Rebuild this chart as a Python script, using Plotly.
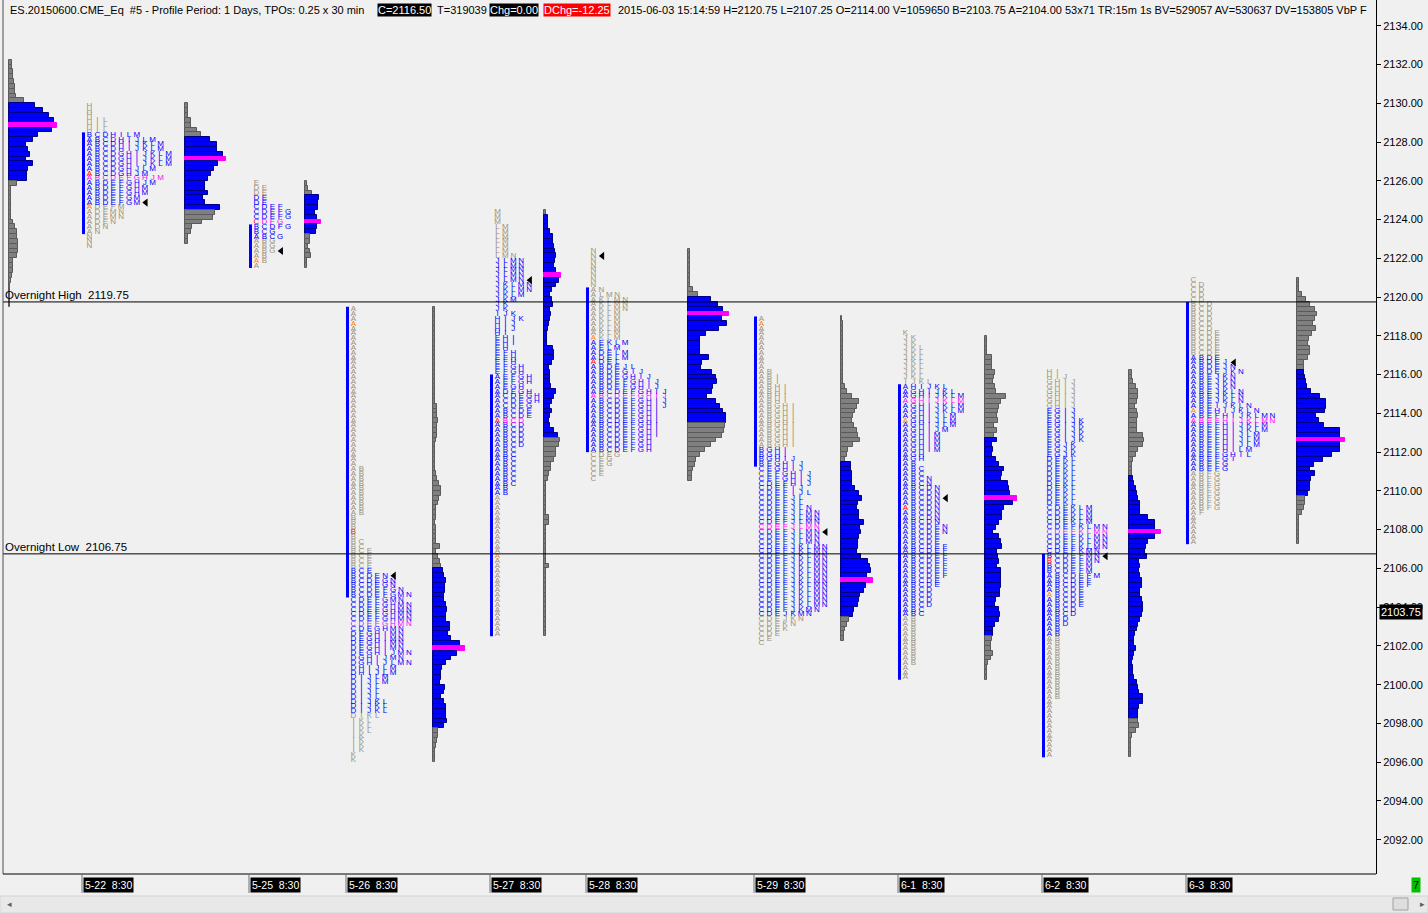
import plotly.graph_objects as go

LETTERS = "ABCDEFGHIJKLMN"
TICK = 0.25

# ---------------- volume-at-price profiles: top price level, volumes listed downward, value area
vp_0521_top = 2132.0
vp_0521_vol = [3, 3, 4, 4, 5, 6, 6, 7, 15, 26, 34, 40, 45, 48, 43, 29, 24, 17, 19, 21, 17, 24, 19, 18, 18,
               8, 2, 2, 2, 2, 2, 2, 2, 4, 6, 8, 8, 9, 9, 9, 8, 4, 4, 4, 3, 2, 1, 1, 1, 1, 1]
vp_0521_va = (2126.0, 2129.75)

vp_0522_top = 2129.75
vp_0522_vol = [3, 3, 3, 6, 6, 12, 16, 25, 32, 32, 38, 41, 33, 29, 26, 23, 20, 20, 23, 18, 20, 35,
               30, 28, 17, 7, 6, 3, 3]
vp_0522_va = (2124.5, 2128.0)

vp_0525_top = 2125.75
vp_0525_vol = [2, 3, 7, 14, 13, 13, 10, 12, 16, 12, 11, 5, 5, 3, 5, 6, 2, 2]
vp_0525_va = (2123.25, 2125.0)

vp_0526_top = 2119.25
vp_0526_vol = [2, 2, 2, 2, 2, 2, 2, 2, 2, 2, 2, 2, 2, 2, 2, 2, 2, 2, 2, 2,
               4, 4, 4, 5, 4, 4, 4, 3, 2, 2, 2, 2, 2, 2, 3, 4, 6, 8, 8, 6, 5,
               3, 3, 3, 2, 3, 3, 3, 3, 7, 3, 5, 7, 8,
               10, 11, 13, 12, 12, 11, 11, 13, 14, 13, 13, 17, 17, 15, 18, 27, 32,
               24, 18, 13, 9, 8, 8, 7, 12, 11, 8, 11, 13, 13, 13, 14, 11,
               5, 5, 4, 3, 2, 2, 2]
vp_0526_va = (2097.75, 2105.75)

vp_0527_top = 2124.25
vp_0527_vol = [2, 4, 4, 4, 6, 9, 9, 10, 11, 12, 11, 10, 12, 17,
               15, 12, 8, 6, 8, 9, 6, 7, 6, 5, 4, 3, 3, 3, 9, 10, 10, 8, 5, 6, 6, 6, 7, 12, 10, 8, 6, 8, 6, 5, 6, 10, 14,
               16, 15, 12, 12, 10, 7, 7, 5, 4, 2, 2, 2, 2, 2, 2, 2, 5, 5, 2, 2, 2, 2, 2, 2, 2, 2, 5,
               2, 2, 2, 2, 2, 2, 2, 2, 2, 2, 2, 2, 2, 2]
vp_0527_va = (2112.75, 2124.0)

vp_0528_top = 2122.25
vp_0528_vol = [2, 2, 2, 2, 2, 2, 2, 2, 5, 10,
               23, 30, 35, 41, 34, 39, 31, 18, 12, 12, 12, 12, 21, 14, 13, 24, 28, 29, 25, 24, 19, 28, 32, 35, 38, 38,
               37, 36, 34, 28, 23, 17, 12, 8, 7, 5, 4, 4]
vp_0528_va = (2113.5, 2119.75)

vp_0529_top = 2118.75
vp_0529_vol = [1, 2, 2, 2, 2, 2, 2, 2, 2, 2, 2, 2, 2, 2, 4, 6, 11, 18, 16, 14, 12, 11, 13, 16, 17, 19, 12, 7, 6, 4,
               10, 10, 11, 11, 11, 14, 18, 21, 17, 16, 18, 18, 23, 19, 20, 18, 17, 17, 16, 20, 27, 29, 30, 26, 32,
               25, 23, 19, 18, 17, 13, 12, 8, 6, 4, 3, 3]
vp_0529_va = (2103.5, 2111.25)

vp_0601_top = 2117.75
vp_0601_vol = [2, 2, 2, 2, 7, 7, 7, 10, 9, 8, 10, 11, 21, 16, 14, 13, 12, 13, 9, 12, 9,
               12, 7, 8, 7, 11, 14, 19, 17, 16, 23, 24, 25, 32,
               28, 19, 17, 17, 14, 11, 8, 14, 16, 17, 12, 13, 14, 12, 16, 16, 16, 16, 15, 15, 11, 10, 14, 15, 14, 10, 8, 8,
               7, 6, 6, 8, 6, 3, 2, 2, 2]
vp_0601_va = (2102.5, 2112.5)

vp_0602_top = 2116.0
vp_0602_vol = [3, 3, 4, 7, 9, 9, 8, 6, 8, 9, 8, 8, 8, 14, 15, 14, 9, 7, 4, 3, 3, 3,
               4, 5, 7, 8, 9, 11, 11, 11, 19, 26, 26, 32,
               26, 19, 17, 16, 18, 10, 11, 10, 11, 13, 13, 11, 11, 13, 14, 14, 13, 11, 9, 8, 6, 5, 5, 7, 5, 4, 3, 4, 4,
               5, 8, 9, 10, 14, 14, 10, 9, 9,
               9, 10, 7, 3, 2, 2, 2, 2]
vp_0602_va = (2098.25, 2110.5)

vp_0603_top = 2120.75
vp_0603_vol = [2, 2, 2, 5, 9, 13, 18, 20, 18, 16, 19, 15, 12, 11, 13, 13, 11, 7, 7,
               7, 8, 9, 10, 14, 23, 29, 29, 28, 19, 22, 27, 43, 43, 48,
               43, 43, 35, 26, 17, 13, 18, 14, 13, 13, 11,
               8, 8, 7, 5, 2, 2, 2, 2, 2, 2]
vp_0603_va = (2109.75, 2116.0)

# ---------------- TPO letter ranges (low, high) for periods A..N of each day session
tpo_0522 = [(2123.25, 2128.0), (2124.75, 2128.25), (2126.0, 2128.25), (2123.5, 2128.25), (2123.75, 2126.0),
            (2124.5, 2126.0), (2124.75, 2127.25), (2125.25, 2129.75), (2126.75, 2129.0), (2125.75, 2128.0),
            (2126.75, 2127.75), (2126.5, 2129.0), (2124.0, 2128.25), (2122.5, 2124.25)]
tpo_0525 = [(2121.5, 2123.0), (2121.75, 2123.5), (2123.0, 2124.5), (2123.5, 2125.5), (2124.0, 2125.75),
            (2123.5, 2124.5), (2122.25, 2124.25)]
tpo_0526 = [(2108.75, 2119.25), (2104.5, 2111.0), (2102.75, 2107.25), (2098.25, 2105.5), (2101.5, 2106.75),
            (2103.0, 2104.75), (2101.0, 2105.25), (2100.5, 2104.0), (2096.5, 2102.5), (2098.5, 2101.5),
            (2096.0, 2099.0), (2097.5, 2101.0), (2100.0, 2104.5), (2101.0, 2105.5)]
tpo_0527 = [(2102.5, 2115.75), (2109.75, 2114.0), (2110.25, 2114.75), (2112.25, 2115.0), (2113.75, 2117.75),
            (2115.5, 2117.0), (2114.25, 2116.25), (2114.5, 2118.75), (2117.5, 2119.0), (2118.25, 2121.75),
            (2118.75, 2120.5), (2120.0, 2123.5), (2119.75, 2124.25), (2120.25, 2122.0)]
tpo_0528 = [(2112.0, 2120.25), (2112.0, 2116.25), (2110.5, 2115.0), (2111.75, 2117.0), (2110.75, 2117.5),
            (2112.0, 2115.5), (2111.25, 2116.0), (2112.0, 2115.75), (2112.75, 2116.0), (2114.25, 2116.25),
            (2117.5, 2119.75), (2116.25, 2120.0), (2116.75, 2120.0), (2119.25, 2122.25)]
tpo_0529 = [(2112.25, 2118.75), (2111.25, 2116.0), (2102.0, 2111.0), (2102.5, 2110.25), (2102.25, 2111.25),
            (2103.75, 2110.75), (2110.5, 2114.25), (2110.25, 2115.25), (2109.75, 2115.75), (2103.25, 2111.5),
            (2102.75, 2107.0), (2104.0, 2109.75), (2103.5, 2108.75), (2103.0, 2109.0)]
tpo_0601 = [(2100.25, 2115.25), (2101.0, 2111.25), (2103.5, 2111.0), (2104.0, 2110.0), (2105.0, 2108.0),
            (2105.5, 2107.0), (2111.5, 2115.0), (2111.5, 2115.25), (2112.0, 2115.5), (2113.0, 2117.75),
            (2114.0, 2118.0), (2113.25, 2117.25), (2112.0, 2114.75), (2107.75, 2110.5)]
tpo_0602 = [(2096.25, 2105.5), (2099.25, 2106.5), (2103.5, 2109.0), (2103.0, 2111.5), (2104.0, 2114.0),
            (2105.0, 2108.0), (2111.75, 2115.5), (2114.25, 2116.0), (2112.5, 2116.0), (2111.75, 2115.75),
            (2106.75, 2113.5), (2107.0, 2111.5), (2105.5, 2109.0), (2106.25, 2108.0)]
tpo_0603 = [(2107.25, 2116.75), (2109.0, 2119.5), (2117.0, 2120.75), (2116.0, 2120.5), (2111.0, 2118.0),
            (2108.75, 2113.75), (2109.0, 2111.75), (2111.75, 2114.0), (2111.5, 2114.25), (2112.25, 2116.5),
            (2113.0, 2116.0), (2111.75, 2115.0), (2112.0, 2113.75), (2113.5, 2116.25)]

tpo_open = [2124.5, 2121.75, 2118.5, 2106.5, 2117.75, 2118.5, 2113.5, 2104.5, 2114.0]
tpo_red = [2126.25, 2123.75, 2107.75, 2113.5, 2116.5, 2110.75, 2109.0, 2106.25, None]
tpo_close = [2124.75, 2122.25, 2105.5, 2120.75, 2122.0, 2107.75, 2109.5, 2106.5, 2116.5]
tpo_poc = [2126.0, 2123.75, 2103.0, 2113.5, 2114.75, 2108.0, 2114.5, 2107.75, 2113.5]
tpo_va_low = [2124.75, 2123.0, 2098.5, 2109.75, 2112.0, 2103.5, 2103.5, 2102.5, 2111.0]
tpo_va_high = [2128.25, 2125.0, 2105.75, 2121.75, 2117.5, 2112.0, 2115.25, 2114.0, 2116.75]

session_labels = ["5-22  8:30", "5-25  8:30", "5-26  8:30", "5-27  8:30", "5-28  8:30",
                  "5-29  8:30", "6-1  8:30", "6-2  8:30", "6-3  8:30"]

overnight_high = 2119.75
overnight_low = 2106.75
last_bid = 2103.75
y_ticks = list(range(2092, 2135, 2))

# ---------------- layout (pixel-like x axis, positions only)
session_x = [82, 249, 346, 490, 586, 754, 898, 1042, 1186]
vp_x = [9, 185, 305, 433, 544, 688, 841, 985, 1129, 1297]
COL0 = 7.5
COLW = 7.9

BLUE, NAVY = "#0000ff", "#000080"
GRAY, DGRAY = "#808080", "#5a5a5a"
MAG = "#ff00ff"
TAN = "#9c9078"
BG = "#f0f0f0"
FONT = "Liberation Sans, Arial, sans-serif"

vol_profiles = [
    (vp_0521_top, vp_0521_vol, vp_0521_va), (vp_0522_top, vp_0522_vol, vp_0522_va),
    (vp_0525_top, vp_0525_vol, vp_0525_va), (vp_0526_top, vp_0526_vol, vp_0526_va),
    (vp_0527_top, vp_0527_vol, vp_0527_va), (vp_0528_top, vp_0528_vol, vp_0528_va),
    (vp_0529_top, vp_0529_vol, vp_0529_va), (vp_0601_top, vp_0601_vol, vp_0601_va),
    (vp_0602_top, vp_0602_vol, vp_0602_va), (vp_0603_top, vp_0603_vol, vp_0603_va),
]
tpo_days = [tpo_0522, tpo_0525, tpo_0526, tpo_0527, tpo_0528, tpo_0529, tpo_0601, tpo_0602, tpo_0603]

fig = go.Figure()


def near(a, b):
    return b is not None and abs(a - b) < 1e-6


# volume profiles
for (top, vols, va), x0 in zip(vol_profiles, vp_x):
    n = len(vols)
    levels = [top - i * TICK for i in range(n)]
    poc_i = max(range(n), key=lambda i: vols[i])
    fill, line = [], []
    for i, p in enumerate(levels):
        if i == poc_i:
            fill.append(MAG); line.append(MAG)
        elif va[0] - 1e-6 <= p <= va[1] + 1e-6:
            fill.append(BLUE); line.append(NAVY)
        else:
            fill.append(GRAY); line.append(DGRAY)
    fig.add_trace(go.Bar(
        orientation="h", y=[p + TICK / 2 for p in levels], x=vols, base=x0, width=TICK,
        marker=dict(color=fill, line=dict(color=line, width=1)),
        hoverinfo="skip", showlegend=False))

# TPO profiles
tri_x, tri_y = [], []
for d, ranges in enumerate(tpo_days):
    ib_x = session_x[d]
    lo = min(a for a, b in ranges)
    hi = max(b for a, b in ranges)
    nlev = int(round((hi - lo) / TICK)) + 1
    xs, ys, ts, cs = [], [], [], []
    for k in range(nlev):
        p = lo + k * TICK
        present = [LETTERS[i] for i, (a, b) in enumerate(ranges) if a - 1e-6 <= p <= b + 1e-6]
        for c, L in enumerate(present):
            if c == 0 and near(p, tpo_open[d]):
                col = "#ff8000"
            elif c == 0 and near(p, tpo_red[d]):
                col = "#ff0000"
            elif near(p, tpo_poc[d]):
                col = MAG
            elif tpo_va_low[d] - 1e-6 <= p <= tpo_va_high[d] + 1e-6:
                col = BLUE
            else:
                col = TAN
            xs.append(ib_x + COL0 + c * COLW)
            ys.append(p + TICK / 2)
            ts.append(L)
            cs.append(col)
        if near(p, tpo_close[d]):
            tri_x.append(ib_x + COL0 + len(present) * COLW + 1)
            tri_y.append(p + TICK / 2)
    fig.add_trace(go.Scatter(
        x=xs, y=ys, text=ts, mode="text",
        textfont=dict(family="Liberation Sans Narrow, Liberation Sans, Arial, sans-serif", size=8, color=cs),
        hoverinfo="skip", showlegend=False, cliponaxis=False))
    # initial balance bar (A + B periods)
    ib_lo = min(ranges[0][0], ranges[1][0])
    ib_hi = max(ranges[0][1], ranges[1][1]) + TICK
    fig.add_trace(go.Scatter(
        x=[ib_x + 1.5, ib_x + 1.5], y=[ib_lo, ib_hi], mode="lines",
        line=dict(color=BLUE, width=3), hoverinfo="skip", showlegend=False))

fig.add_trace(go.Scatter(
    x=tri_x, y=tri_y, mode="markers",
    marker=dict(symbol="triangle-left", size=7, color="black", line=dict(width=0)),
    hoverinfo="skip", showlegend=False))

PLOT_H = 874.0
PLOT_W = 1373.0


def py(pix):  # pixel row -> paper y
    return (PLOT_H - pix) / PLOT_H


def px(pix):  # pixel column -> paper x
    return (pix - 3) / PLOT_W


shapes = []
for lvl in (overnight_high, overnight_low):
    shapes.append(dict(type="line", xref="paper", yref="y", x0=0, x1=1, y0=lvl, y1=lvl,
                       line=dict(color="black", width=1)))
shapes.append(dict(type="line", xref="paper", yref="paper", x0=0, x1=0, y0=0, y1=1,
                   line=dict(color="#505050", width=1)))
shapes.append(dict(type="line", xref="paper", yref="paper", x0=0, x1=1, y0=0, y1=0,
                   line=dict(color="black", width=1)))
for sx in session_x:
    shapes.append(dict(type="line", xref="x", yref="paper", x0=sx, x1=sx, y0=0, y1=py(893),
                       line=dict(color="#707070", width=1)))
# scrollbar
shapes.append(dict(type="rect", xref="paper", yref="paper", x0=px(0), x1=px(1428), y0=py(896), y1=py(913),
                   fillcolor="#e8e8e8", line=dict(color="#d4d4d4", width=1), layer="above"))
shapes.append(dict(type="rect", xref="paper", yref="paper", x0=px(1393), x1=px(1408), y0=py(898), y1=py(910),
                   fillcolor="#dedede", line=dict(color="#a0a0a0", width=1), layer="above"))

ann = []
ann.append(dict(xref="x", yref="y", x=4, y=overnight_high, xanchor="left", yanchor="bottom",
                text="Overnight High\u00a0\u00a02119.75", showarrow=False,
                font=dict(family=FONT, size=11.5, color="black"), borderpad=0))
ann.append(dict(xref="x", yref="y", x=4, y=overnight_low, xanchor="left", yanchor="bottom",
                text="Overnight Low\u00a0\u00a02106.75", showarrow=False,
                font=dict(family=FONT, size=11.5, color="black"), borderpad=0))

title_parts = [
    (9, "ES.20150600.CME_Eq\u00a0\u00a0#5 - Profile Period: 1 Days, TPOs: 0.25 x 30 min", None, "black"),
    (377, "C=2116.50", "black", "white"),
    (436, "T=319039", None, "black"),
    (489, "Chg=0.00", "black", "white"),
    (543, "DChg=-12.25", "#ff0000", "white"),
    (617, "2015-06-03 15:14:59 H=2120.75 L=2107.25 O=2114.00 V=1059650 B=2103.75 A=2104.00 53x71 "
          "TR:15m 1s BV=529057 AV=530637 DV=153805 VbP F", None, "black"),
]
for x0, txt, bg, fc in title_parts:
    a = dict(xref="x", yref="paper", x=x0, y=py(10), xanchor="left", yanchor="middle", text=txt,
             showarrow=False, font=dict(family=FONT, size=11, color=fc), borderpad=0)
    if bg:
        a["bgcolor"] = bg
    ann.append(a)

for sx, lab in zip(session_x, session_labels):
    ann.append(dict(xref="x", yref="paper", x=sx + 1, y=py(885), xanchor="left", yanchor="middle",
                    text=lab.replace(" ", "\u00a0"), showarrow=False, bgcolor="black", borderpad=1,
                    font=dict(family=FONT, size=10.5, color="white")))

ann.append(dict(xref="paper", yref="y", x=px(1379), y=last_bid, xanchor="left", yanchor="middle",
                text="2103.75", showarrow=False, bgcolor="black", borderpad=1,
                font=dict(family=FONT, size=11, color="white")))
ann.append(dict(xref="paper", yref="paper", x=px(1411), y=py(885), xanchor="left", yanchor="middle",
                text="7", showarrow=False, bgcolor="#00c000", borderpad=1,
                font=dict(family=FONT, size=11, color="black")))
ann.append(dict(xref="paper", yref="paper", x=px(5), y=py(904), xanchor="left", yanchor="middle",
                text="\u25c2", showarrow=False, font=dict(family=FONT, size=9, color="#606060")))
ann.append(dict(xref="paper", yref="paper", x=px(1418), y=py(904), xanchor="left", yanchor="middle",
                text="\u25b8", showarrow=False, font=dict(family=FONT, size=9, color="#606060")))

fig.update_layout(
    width=1428, height=913, autosize=False,
    margin=dict(l=3, r=52, t=0, b=39, pad=0),
    paper_bgcolor=BG, plot_bgcolor=BG,
    barmode="overlay", bargap=0, hovermode=False, showlegend=False,
    shapes=shapes, annotations=ann,
    xaxis=dict(range=[3, 1376], visible=False, fixedrange=True),
    yaxis=dict(range=[2090.23, 2135.33], side="right", tickvals=y_ticks, tickformat=".2f",
               ticks="outside", ticklen=4, tickcolor="black", showline=True, linecolor="black",
               linewidth=1, showgrid=False, zeroline=False, fixedrange=True,
               tickfont=dict(family=FONT, size=11, color="black")),
)

fig.write_html("out.html", config={"displayModeBar": False},
               post_script="document.body.style.margin='0';document.body.style.overflow='hidden';")
